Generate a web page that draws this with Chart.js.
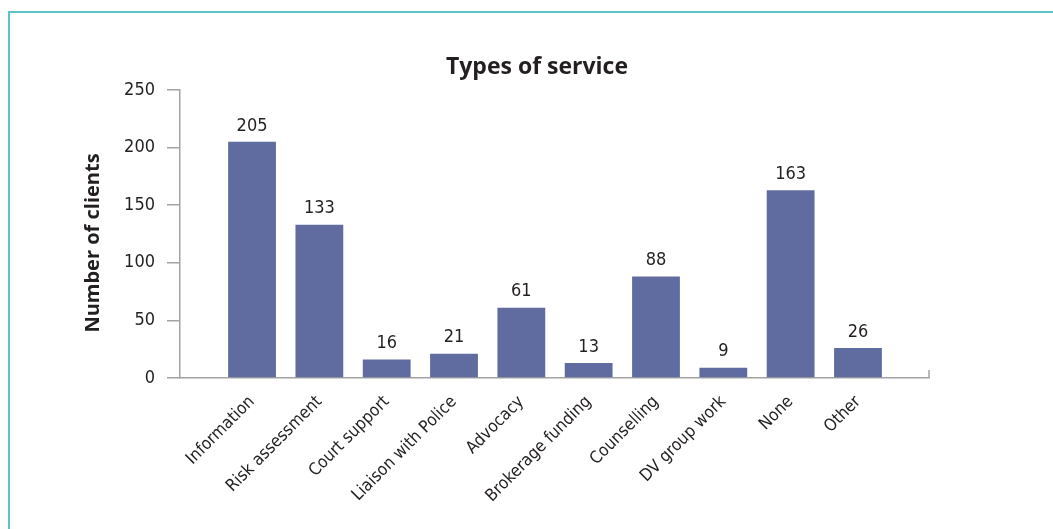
<!DOCTYPE html>
<html>
<head>
<meta charset="utf-8">
<script src="https://cdn.jsdelivr.net/npm/chart.js@4.4.1/dist/chart.umd.min.js"></script>
<style>
  html, body { margin: 0; padding: 0; background: #fff; }
  #wrap { position: relative; width: 1053px; height: 529px; overflow: hidden; }
  #frame { position: absolute; left: 8px; top: 11px; width: 1200px; height: 700px;
           border-top: 2px solid #5EC3C6; border-left: 2px solid #5EC3C6; }
  canvas { position: absolute; left: 0; top: 0; }
</style>
</head>
<body>
<div id="wrap">
  <div id="frame"></div>
  <canvas id="c" width="1053" height="529"></canvas>
</div>
<script>
const categories = ["Information", "Risk assessment", "Court support", "Liaison with Police", "Advocacy",
                    "Brokerage funding", "Counselling", "DV group work", "None", "Other"];
const clients = [205, 133, 16, 21, 61, 13, 88, 9, 163, 26];
const yTicks = [0, 50, 100, 150, 200, 250];
const chartTitle = "Types of service";
const yTitle = "Number of clients";

const FONT = "'DejaVu Sans Condensed', 'Liberation Sans Narrow', sans-serif";
const BOLD = "'Open Sans', 'Liberation Sans', sans-serif";
const TEXT = '#231F20';
const AXIS = '#A3A3A3';
const BAR = '#606C9F';

const valueLabels = {
  id: 'valueLabels',
  afterDatasetsDraw(chart) {
    const ctx = chart.ctx;
    const meta = chart.getDatasetMeta(0);
    ctx.save();
    ctx.font = '18px ' + FONT;
    ctx.fillStyle = TEXT;
    ctx.textAlign = 'center';
    ctx.textBaseline = 'middle';
    meta.data.forEach((el, i) => {
      ctx.fillText(String(clients[i]), el.x, el.y - 16);
    });
    ctx.restore();
  }
};

const decorations = {
  id: 'decorations',
  afterDraw(chart) {
    const {ctx, chartArea} = chart;
    ctx.save();
    // small closing tick at the right end of the category axis
    ctx.strokeStyle = AXIS;
    ctx.lineWidth = 1.5;
    ctx.beginPath();
    ctx.moveTo(chartArea.right, chartArea.bottom);
    ctx.lineTo(chartArea.right, chartArea.bottom - 8);
    ctx.stroke();
    // chart title
    ctx.font = 'bold 23px ' + BOLD;
    ctx.fillStyle = TEXT;
    ctx.textAlign = 'center';
    ctx.textBaseline = 'middle';
    ctx.fillText(chartTitle, 537, chartArea.top - 23);
    // y axis title
    ctx.font = 'bold 20px ' + BOLD;
    ctx.translate(93, (chartArea.top + chartArea.bottom) / 2 + 9);
    ctx.rotate(-Math.PI / 2);
    ctx.fillText(yTitle, 0, 0);
    ctx.restore();
  }
};

new Chart(document.getElementById('c'), {
  type: 'bar',
  data: {
    datasets: [{
      data: clients.map((v, i) => ({x: i, y: v})),
      backgroundColor: BAR,
      borderWidth: 0,
      barPercentage: 1.0,
      categoryPercentage: 0.71
    }]
  },
  options: {
    responsive: false,
    animation: false,
    devicePixelRatio: 1,
    layout: { padding: { left: 0, right: 124, top: 90, bottom: 0 } },
    plugins: {
      legend: { display: false },
      tooltip: { enabled: false },
      title: { display: false }
    },
    scales: {
      x: {
        type: 'linear',
        offset: false,
        min: -1.07,
        max: 10.055,
        afterBuildTicks(axis) { axis.ticks = categories.map((_, i) => ({ value: i })); },
        afterFit(axis) { axis.height = 151; },
        grid: { drawOnChartArea: false, drawTicks: false },
        border: { display: true, color: AXIS, width: 1.5 },
        ticks: {
          autoSkip: false,
          minRotation: 45,
          maxRotation: 45,
          padding: 14,
          color: TEXT,
          font: { family: FONT, size: 17 },
          callback: (v) => categories[v]
        }
      },
      y: {
        min: 0,
        max: 250,
        afterBuildTicks(axis) { axis.ticks = yTicks.map(v => ({ value: v })); },
        afterFit(axis) { axis.width = 180; },
        grid: { drawOnChartArea: false, drawTicks: true, tickLength: 13, color: AXIS, lineWidth: 1.5 },
        border: { display: true, color: AXIS, width: 1.5 },
        ticks: { padding: 12, color: TEXT, font: { family: FONT, size: 18 } },
        title: { display: false }
      }
    }
  },
  plugins: [valueLabels, decorations]
});
</script>
</body>
</html>
